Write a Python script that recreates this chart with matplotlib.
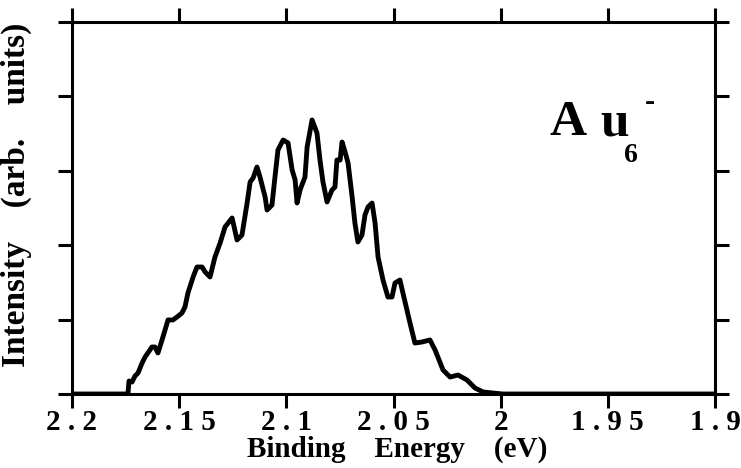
import numpy as np
import matplotlib.pyplot as plt

# Au6- photoelectron spectrum
energy = [2.2, 2.1739, 2.1734, 2.172, 2.1706, 2.1692, 2.1673, 2.1659, 2.1627, 2.1613,
          2.1599, 2.158, 2.1566, 2.1552, 2.1529, 2.151, 2.1487, 2.1473, 2.1459, 2.1435,
          2.1417, 2.1393, 2.1379, 2.1356, 2.1333, 2.1309, 2.1286, 2.1253, 2.123, 2.1207,
          2.1183, 2.1169, 2.1155, 2.1137, 2.1123, 2.1099, 2.109, 2.1067, 2.1053, 2.1039,
          2.1015, 2.0992, 2.0973, 2.0959, 2.095, 2.0936, 2.0913, 2.0903, 2.088, 2.0857,
          2.0843, 2.0829, 2.081, 2.0787, 2.0773, 2.0764, 2.0749, 2.074, 2.0726, 2.0712,
          2.0693, 2.068, 2.0666, 2.0647, 2.0633, 2.0619, 2.06, 2.0586, 2.0572, 2.0549,
          2.0526, 2.0507, 2.0493, 2.047, 2.0456, 2.0423, 2.04, 2.0367, 2.033, 2.0306,
          2.0269, 2.0236, 2.0199, 2.0157, 2.012, 2.0082, 2.0036, 1.9989, 1.9]
intensity = [0.0, 0.0, 0.175, 0.161, 0.242, 0.282, 0.417, 0.497, 0.632, 0.632,
             0.551, 0.726, 0.86, 0.995, 0.995, 1.035, 1.089, 1.169, 1.358, 1.573,
             1.707, 1.707, 1.64, 1.573, 1.841, 2.03, 2.245, 2.366, 2.07, 2.137,
             2.567, 2.849, 2.903, 3.051, 2.917, 2.648, 2.473, 2.54, 2.917, 3.28,
             3.414, 3.374, 3.011, 2.876, 2.567, 2.742, 2.917, 3.32, 3.683, 3.508,
             3.145, 2.849, 2.581, 2.742, 2.782, 3.145, 3.145, 3.387, 3.253, 3.105,
             2.648, 2.298, 2.043, 2.137, 2.406, 2.513, 2.567, 2.298, 1.841, 1.532,
             1.304, 1.304, 1.492, 1.532, 1.358, 0.954, 0.685, 0.699, 0.726, 0.591,
             0.323, 0.228, 0.255, 0.188, 0.081, 0.027, 0.013, 0.0, 0.0]

xticks = [2.2, 2.15, 2.1, 2.05, 2.0, 1.95, 1.9]
xtick_labels = ['2 . 2', '2 . 1 5', '2 . 1', '2 . 0 5', '2', '1 . 9 5', '1 . 9']

plt.rcParams['font.family'] = ['Liberation Serif', 'DejaVu Serif']
plt.rcParams['font.weight'] = 'bold'

fig = plt.figure(figsize=(7.41, 4.68), dpi=100)
ax = fig.add_axes([72 / 741, 1 - 394 / 468, 643 / 741, 372 / 468])

ax.plot(energy, intensity, color='black', lw=3.5, solid_joinstyle='round')

ax.set_xlim(2.2, 1.9)
ax.set_ylim(0, 5)
ax.set_xticks(xticks)
ax.set_xticklabels(xtick_labels, fontsize=21, fontweight='bold')
ax.set_yticks(range(6))
ax.set_yticklabels([])

ax.tick_params(direction='out', length=10, width=2.2, top=True, right=True, pad=1)
for s in ax.spines.values():
    s.set_linewidth(2.2)

ax.set_xlabel('Binding    Energy    (eV)', fontsize=21, fontweight='bold')
ax.xaxis.set_label_coords(0.505, -0.113)
ax.set_ylabel('Intensity    (arb.    units)', fontsize=24, fontweight='bold')
ax.yaxis.set_label_coords(-0.062, 0.535)

# species label
fig.text(550 / 741, 1 - 135 / 468, 'A', fontsize=37, fontweight='bold', ha='left', va='baseline')
fig.text(600 / 741, 1 - 135 / 468, 'u', fontsize=37, fontweight='bold', ha='left', va='baseline')
fig.text(624 / 741, 1 - 162 / 468, '6', fontsize=20, fontweight='bold', ha='left', va='baseline')
fig.text(645 / 741, 1 - 103 / 468, '-', fontsize=22, fontweight='bold', ha='left', va='center')

fig.savefig('out.png', dpi=100)
